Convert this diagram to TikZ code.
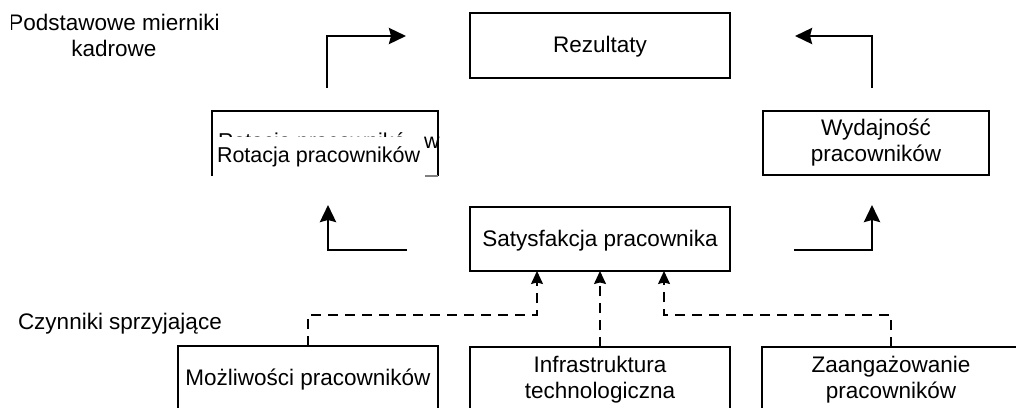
\documentclass[tikz,border=0pt]{standalone}
\usepackage{fontspec}
\setmainfont{Liberation Sans}
\usetikzlibrary{arrows.meta}
\newcommand\diagfont{\fontsize{22.5}{26}\selectfont}
\newcommand\rotfont{\fontsize{21.5}{25}\selectfont}
\begin{document}
\begin{tikzpicture}[x=1pt,y=-1pt,
  box/.style={draw, line width=1.2pt, inner sep=0pt, outer sep=0pt, align=center, font=\diagfont},
  oneline/.style={text height=19.5pt, text depth=4.7pt},
  plain/.style={inner sep=0pt, outer sep=0pt},
  boldarrow/.style={line width=2.8pt, -{Stealth[length=17pt,width=16pt,inset=2pt]}},
  dashline/.style={line width=1.3pt, dash pattern=on 10pt off 7pt, -{Stealth[length=13pt,width=12pt,inset=1.5pt]}}]
\clip (0,0) rectangle (1016,407);

% top result box
\node[box, oneline, line width=2.3pt, minimum width=260pt, minimum height=65pt] (rez) at (600,45.5) {Rezultaty};

% measures row
\node[plain, minimum width=226pt, minimum height=65pt] (rot) at (325,143.5) {};
\draw[line width=1.2pt] (rot.south west) -- (rot.north west) -- (rot.north east) -- (rot.south east);
\draw[line width=1.2pt, gray] ([xshift=-13pt]rot.south east) -- (rot.south east);
\node[plain, anchor=base west, font=\rotfont] (rotghost) at (218,148) {Rotacja pracownikó};
\node[plain, anchor=base west, font=\rotfont] (rotghostw) at (424,148) {w};
\node[plain, anchor=base west, font=\rotfont, fill=white, text height=25pt, text depth=6pt] (rottxt) at (217,162) {Rotacja pracowników};

\node[box, minimum width=226pt, minimum height=64pt] (wyd) at (876,143) {Wydajność\\pracowników};

\node[box, oneline, minimum width=260pt, minimum height=64pt] (sat) at (600,239) {Satysfakcja pracownika};

% enabling factors
\node[box, oneline, minimum width=260pt, minimum height=65pt] (moz) at (308,378.5) {Możliwości pracowników};
\node[box, minimum width=260pt, minimum height=65pt] (inf) at (600,379.5) {Infrastruktura\\technologiczna};
\node[box, minimum width=258pt, minimum height=65pt] (zaa) at (891,379.5) {Zaangażowanie\\pracowników};

% side labels
\begin{scope}
  \clip (11,0) rectangle (300,80);
  \node[plain, align=center, font=\diagfont] (lblmeasures) at (114,35.5) {Podstawowe mierniki\\kadrowe};
\end{scope}
\node[plain, anchor=base west, font=\diagfont] (lblfactors) at (18,329) {Czynniki sprzyjające};

% solid flow arrows
\coordinate (tlstart) at (327,88);
\coordinate (tlend) at (406,36);
\coordinate (trstart) at (872,88);
\coordinate (trend) at (795,36);
\coordinate (blstart) at (407,250);
\coordinate (blend) at (328,205);
\coordinate (brstart) at (794,250);
\coordinate (brend) at (872,205);
\draw[boldarrow] (tlstart) |- (tlend);
\draw[boldarrow] (trstart) |- (trend);
\draw[boldarrow] (blstart) -| (blend);
\draw[boldarrow] (brstart) -| (brend);

% dashed influence connectors
\draw[dashline] (moz.north) -- ++(0pt,31pt) -| ([xshift=-63pt]sat.south);
\draw[dashline] (inf.north) -- (sat.south);
\draw[dashline] (zaa.north) -- ++(0pt,32pt) -| ([xshift=64pt]sat.south);
\end{tikzpicture}
\end{document}
